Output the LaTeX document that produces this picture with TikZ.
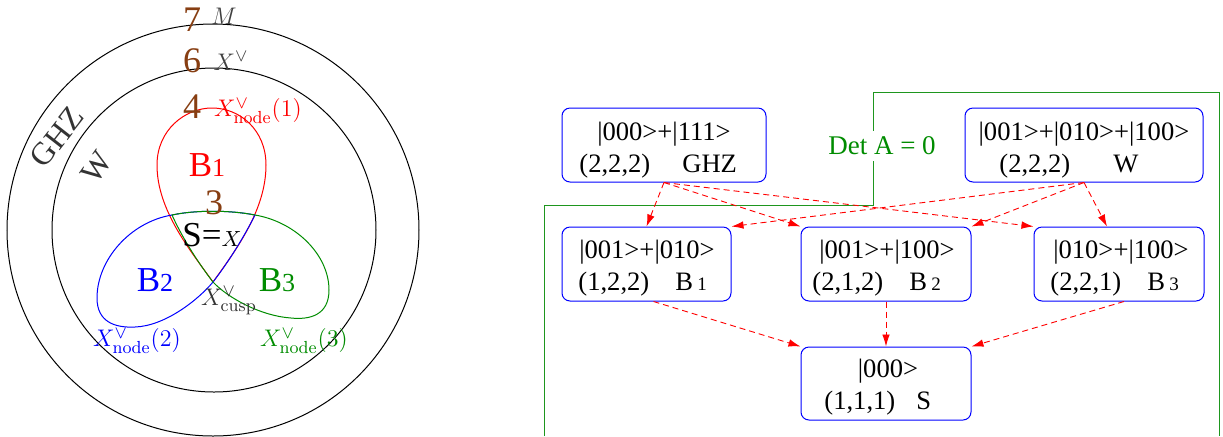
\documentclass[tikz,border=0pt]{standalone}
\usepackage{fontspec}
\newfontfamily\tms{Liberation Serif}
\usetikzlibrary{arrows.meta,calc}
\definecolor{brn}{RGB}{135,62,18}
\definecolor{dgreen}{RGB}{0,140,0}
\definecolor{lgreen}{RGB}{30,150,30}
\begin{document}
\begin{tikzpicture}[x=0.5pt,y=-0.5pt,
  box/.style={draw=blue, rounded corners=4pt, line width=0.5pt, minimum height=37pt, inner sep=0pt},
  txt/.style={font=\tms\fontsize{13.3}{16}\selectfont, inner sep=0pt, anchor=base},
  txtl/.style={txt, anchor=base west},
  edge/.style={red, dash pattern=on 3pt off 2pt, line width=0.45pt, -{Latex[length=6pt,width=3.8pt]}},
  ring/.style={black, line width=0.5pt},
  loop/.style={line width=0.5pt},
  num/.style={text=brn, font=\tms\fontsize{18}{20}\selectfont, inner sep=0pt},
  mlab/.style={font=\fontsize{12.5}{14}\selectfont, inner sep=0pt}]
\useasboundingbox (0,0) rectangle (1223,436);

% ---------- left: circles and loops ----------
\draw[ring] (213,230) circle[radius=103pt];
\draw[ring] (214,230) circle[radius=81pt];

\draw[loop, red] (213,282) .. controls (190,250) and (157,210) .. (157,165)
  .. controls (157,130) and (185,108) .. (212,108)
  .. controls (240,108) and (266,130) .. (266,165)
  .. controls (266,210) and (236,250) .. (213,282);
\draw[loop, blue] (213,282) .. controls (230,260) and (245,235) .. (255,215)
  .. controls (230,210) and (195,210) .. (172,215)
  .. controls (130,222) and (97,260) .. (97,298)
  .. controls (97,322) and (115,328) .. (135,327)
  .. controls (165,326) and (198,300) .. (213,282);
\draw[loop, dgreen] (213,282) .. controls (196,260) and (181,235) .. (172,215)
  .. controls (195,210) and (230,210) .. (255,215)
  .. controls (296,222) and (329,255) .. (329,290)
  .. controls (329,315) and (310,320) .. (291,318)
  .. controls (261,316) and (228,298) .. (213,282);

\node[num] (l7) at (192,20) {7};
\node[mlab, text=black!75] (lM) at (224,16) {$M$};
\node[num] (l6) at (192,61) {6};
\node[mlab, text=black!75] (lXv) at (231,61) {$X^\vee$};
\node[num] (l4) at (192,107) {4};
\node[mlab, text=red] (ln1) at (258,111) {$X^\vee_{\mathrm{node}}(1)$};
\node[inner sep=0pt, text=red] (lB1) at (207,165) {\tms\fontsize{17.5}{20}\selectfont B\fontsize{13}{15}\selectfont 1};
\node[num] (l3) at (214,203) {3};
\node[inner sep=0pt] (lS) at (212,235) {\tms\fontsize{17.5}{20}\selectfont S=\fontsize{11}{13}\selectfont$X$};
\node[inner sep=0pt, text=blue] (lB2) at (155,280) {\tms\fontsize{17.5}{20}\selectfont B\fontsize{13}{15}\selectfont 2};
\node[inner sep=0pt, text=dgreen] (lB3) at (277,280) {\tms\fontsize{17.5}{20}\selectfont B\fontsize{13}{15}\selectfont 3};
\node[mlab, text=black!80] (lcusp) at (229,301) {$X^\vee_{\mathrm{cusp}}$};
\node[mlab, text=blue] (ln2) at (137,341) {$X^\vee_{\mathrm{node}}(2)$};
\node[mlab, text=dgreen] (ln3) at (304,341) {$X^\vee_{\mathrm{node}}(3)$};
\node[inner sep=0pt, text=black!80, rotate=52] (lGHZ) at (57,137) {\tms\fontsize{16}{18}\selectfont GHZ};
\node[inner sep=0pt, text=black!80, rotate=55] (lW) at (97,167) {\tms\fontsize{16}{18}\selectfont W};

% ---------- right: region ----------
\draw[lgreen, line width=0.5pt] (544,436) -- (544,205) -- (873,205) -- (873,92) -- (1219,92) -- (1219,436);
\node[fill=white, text=dgreen, font=\tms\fontsize{13.5}{16}\selectfont, inner xsep=1pt, inner ysep=3pt] (det) at (882,146) {Det A = 0};

% ---------- right: boxes ----------
\node[box, minimum width=102pt] (ghz) at (664,145) {};
\node[box, minimum width=119pt] (w) at (1084,145) {};
\node[box, minimum width=84.5pt] (b1) at (646.5,264) {};
\node[box, minimum width=85pt] (b2) at (886,264) {};
\node[box, minimum width=85pt] (b3) at (1119,264) {};
\node[box, minimum width=85pt, minimum height=36.5pt] (s) at (886,383.5) {};

\node[txt] (ghz1) at (664,140) {|000>+|111>};
\node[txtl] (ghz2) at (579,172) {(2,2,2)\hspace{16pt}GHZ};
\node[txt] (w1) at (1084,140) {|001>+|010>+|100>};
\node[txtl] (w2) at (999,172) {(2,2,2)\hspace{21.5pt}W};
\node[txt] (b11) at (647,258) {|001>+|010>};
\node[txtl] (b12) at (578,290) {(1,2,2)\hspace{13pt}B\,{\fontsize{9.5}{11}\selectfont 1}};
\node[txt] (b21) at (887,258) {|001>+|100>};
\node[txtl] (b22) at (812,290) {(2,1,2)\hspace{13pt}B\,{\fontsize{9.5}{11}\selectfont 2}};
\node[txt] (b31) at (1121,258) {|010>+|100>};
\node[txtl] (b32) at (1050,290) {(2,2,1)\hspace{13pt}B\,{\fontsize{9.5}{11}\selectfont 3}};
\node[txt] (s1) at (888,377) {|000>};
\node[txtl] (s2) at (824,409) {(1,1,1)\hspace{10.5pt}S};

% ---------- arrows ----------
\draw[edge] (ghz.south) -- (b1.north);
\draw[edge] (ghz.south) -- (b2.north west);
\draw[edge] (ghz.south) -- (b3.north west);
\draw[edge] (w.south) -- (b1.north east);
\draw[edge] (w.south) -- (b2.north east);
\draw[edge] (w.south) -- ($(b3.north)+(-12,0)$);
\draw[edge] ($(b1.south)+(7,0)$) -- (s.north west);
\draw[edge] (b2.south) -- (s.north);
\draw[edge] ($(b3.south)+(5,0)$) -- (s.north east);
\end{tikzpicture}
\end{document}
